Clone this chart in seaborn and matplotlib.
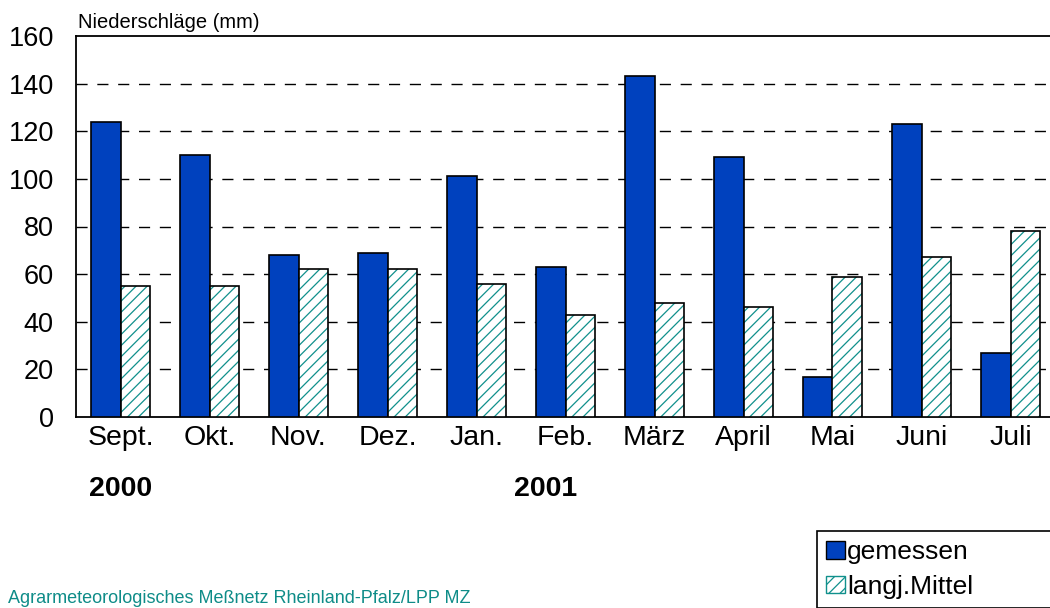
import pandas as pd
import matplotlib.pyplot as plt
import matplotlib.transforms as mtransforms
from matplotlib.patches import Patch, Rectangle
import seaborn as sns

months = ['Sept.', 'Okt.', 'Nov.', 'Dez.', 'Jan.', 'Feb.', 'März', 'April', 'Mai', 'Juni', 'Juli']
gemessen = [124, 110, 68, 69, 101, 63, 143, 109, 17, 123, 27]
mittel = [55, 55, 62, 62, 56, 43, 48, 46, 59, 67, 78]
series = ['gemessen', 'langj.Mittel']

blue = '#0041BE'
teal = '#10908C'

data = pd.DataFrame({
    'Monat': months * 2,
    'Reihe': [series[0]] * len(months) + [series[1]] * len(months),
    'mm': gemessen + mittel,
})

sns.set_style('white')
plt.rcParams['font.family'] = ['Liberation Sans', 'DejaVu Sans']
plt.rcParams['hatch.linewidth'] = 0.9
plt.rcParams['text.color'] = 'black'
plt.rcParams['xtick.color'] = 'black'
plt.rcParams['ytick.color'] = 'black'
plt.rcParams['legend.labelcolor'] = 'black'

fig = plt.figure(figsize=(10.5, 6.08), dpi=100)
ax = fig.add_axes([76 / 1050, 1 - 417 / 608, 979 / 1050, 381 / 608])

sns.barplot(data=data, x='Monat', y='mm', hue='Reihe', order=months, hue_order=series,
            palette={series[0]: blue, series[1]: 'white'}, width=0.66, gap=0,
            edgecolor='black', linewidth=1.2, saturation=1, legend=False, ax=ax, zorder=3)

# hatch the long-term mean bars in teal, keep black outline on top
for bar in ax.containers[1]:
    bar.set_hatch('///')
    bar.set_edgecolor(teal)
    bar.set_linewidth(0)
    ax.add_patch(Rectangle(bar.get_xy(), bar.get_width(), bar.get_height(), fill=False,
                           edgecolor='black', linewidth=1.2, zorder=4))

ax.set_xlim(-0.5, 10.5)
ax.set_ylim(0, 160)
ax.set_yticks(range(0, 161, 20))
ax.set_xlabel('')
ax.set_ylabel('')
for y in range(20, 160, 20):
    ax.axhline(y, color='black', lw=1, linestyle=(0, (8, 7)), zorder=1)

for s in ['left', 'top', 'bottom']:
    ax.spines[s].set_color('black')
    ax.spines[s].set_linewidth(1.3)
ax.spines['right'].set_visible(False)
ax.tick_params(axis='y', length=0, pad=16, labelsize=19.5, labelcolor='black')
ax.tick_params(axis='x', length=0, pad=6, labelsize=20.5, labelcolor='black')

trans = mtransforms.blended_transform_factory(ax.transData, ax.transAxes)
ax.text(0, -0.19, '2000', transform=trans, ha='center', va='center', fontsize=20.5, fontweight='bold')
ax.text(4.78, -0.19, '2001', transform=trans, ha='center', va='center', fontsize=20.5, fontweight='bold')

fig.text(78 / 1050, 1 - 22 / 608, 'Niederschläge (mm)', fontsize=14.5, ha='left', va='center')
fig.text(8 / 1050, 0.009, 'Agrarmeteorologisches Meßnetz Rheinland-Pfalz/LPP MZ',
         fontsize=13, color='#0E8C88', ha='left', va='baseline')

handles = [Patch(facecolor=blue, edgecolor='black', linewidth=1),
           Patch(facecolor='white', edgecolor=teal, hatch='///', linewidth=1)]
leg = fig.legend(handles, series, loc='upper left', mode='expand',
                 bbox_to_anchor=(817 / 1050, 0.0, 0.3, 1 - 531 / 608),
                 fontsize=19, frameon=True, fancybox=False, framealpha=1,
                 handlelength=0.7, handleheight=0.65, handletextpad=0.1,
                 labelspacing=0.4, borderpad=0.35, borderaxespad=0)
leg.get_frame().set_edgecolor('black')
leg.get_frame().set_linewidth(1.2)

fig.savefig('out.png', dpi=100)
